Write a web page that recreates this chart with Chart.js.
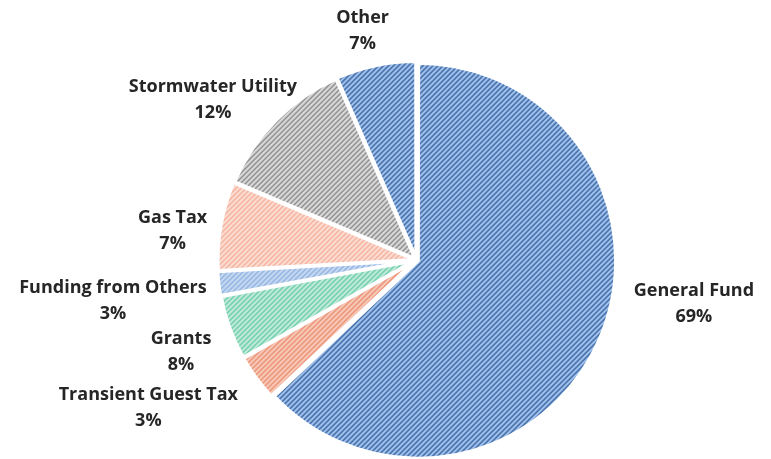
<!DOCTYPE html>
<html>
<head>
<meta charset="utf-8">
<script src="https://cdn.jsdelivr.net/npm/chart.js@4.4.1/dist/chart.umd.min.js"></script>
<style>
  html, body { margin: 0; padding: 0; background: #ffffff; }
  #wrap { width: 771px; height: 459px; }
</style>
</head>
<body>
<div id="wrap"><canvas id="c" width="771" height="459"></canvas></div>
<script>
// Data (clockwise from 12 o'clock)
const categories = ["General Fund", "Transient Guest Tax", "Grants", "Funding from Others", "Gas Tax", "Stormwater Utility", "Other"];
const sliceValues = [63.0, 3.8, 5.3, 2.0, 7.3, 12.0, 6.6];
const labelPercents = ["69%", "3%", "8%", "3%", "7%", "12%", "7%"];

// Styles
const baseColors = ["#a8c8f2", "#f8cbbb", "#c8eddf", "#cadbf2", "#fde0d7", "#dcdcdc", "#a8c8f2"];
const lineColors = ["#2c5896", "#ec8c6e", "#5cc7a0", "#89ade0", "#f4a994", "#858585", "#2c5896"];
// label nudges (styling only), [dx, dy] in px
const labelNudge = [[24, -52], [-22, 4], [-4, 9], [4, 12], [3, 12], [10, 10], [-4, 8]];

function stripe(base, line) {
  const n = 5;
  const t = document.createElement('canvas');
  t.width = n; t.height = n;
  const g = t.getContext('2d');
  g.fillStyle = base;
  g.fillRect(0, 0, n, n);
  g.fillStyle = line;
  for (let x = 0; x < n; x++) {
    for (let y = 0; y < n; y++) {
      const k = (x + y) % n;
      if (k === 0) { g.globalAlpha = 1; g.fillRect(x, y, 1, 1); }
      else if (k === 1) { g.globalAlpha = 0.7; g.fillRect(x, y, 1, 1); }
      else if (k === 4) { g.globalAlpha = 0.2; g.fillRect(x, y, 1, 1); }
    }
  }
  g.globalAlpha = 1;
  return g.createPattern(t, 'repeat');
}

const ctx0 = document.getElementById('c').getContext('2d');
const patterns = baseColors.map((b, i) => stripe(b, lineColors[i]));

const FONT = 'bold 18px "Open Sans", Lato, sans-serif';
const LINE_H = 26;

const labelPlugin = {
  id: 'outerLabels',
  afterDatasetsDraw(chart) {
    const ctx = chart.ctx;
    const meta = chart.getDatasetMeta(0);
    ctx.save();
    ctx.font = FONT;
    ctx.fillStyle = '#262626';
    ctx.textAlign = 'center';
    ctx.textBaseline = 'middle';
    meta.data.forEach((arc, i) => {
      const p = arc.getProps(['x', 'y', 'startAngle', 'endAngle', 'outerRadius'], true);
      const mid = (p.startAngle + p.endAngle) / 2;
      const dx = Math.cos(mid), dy = Math.sin(mid);
      const gap = 20;
      const ax = p.x + dx * (p.outerRadius + gap);
      const ay = p.y + dy * (p.outerRadius + gap);
      const lines = [categories[i], labelPercents[i]];
      const w = Math.max(...lines.map(s => ctx.measureText(s).width));
      const h = LINE_H * lines.length;
      const cx = ax + dx * w / 2 + labelNudge[i][0];
      const cy = ay + dy * h / 2 + labelNudge[i][1];
      lines.forEach((s, j) => {
        ctx.fillText(s, cx, cy - h / 2 + LINE_H * (j + 0.5));
      });
    });
    ctx.restore();
  }
};

new Chart(ctx0, {
  type: 'pie',
  data: {
    labels: categories,
    datasets: [{
      data: sliceValues,
      backgroundColor: patterns,
      borderColor: '#ffffff',
      borderWidth: 3.5,
      offset: 7,
      hoverOffset: 7
    }]
  },
  options: {
    responsive: false,
    animation: false,
    radius: 196,
    layout: { padding: { left: 62, right: 0, top: 61, bottom: 0 } },
    plugins: {
      legend: { display: false },
      tooltip: { enabled: false },
      title: { display: false }
    },
    events: []
  },
  plugins: [labelPlugin]
});
</script>
</body>
</html>
